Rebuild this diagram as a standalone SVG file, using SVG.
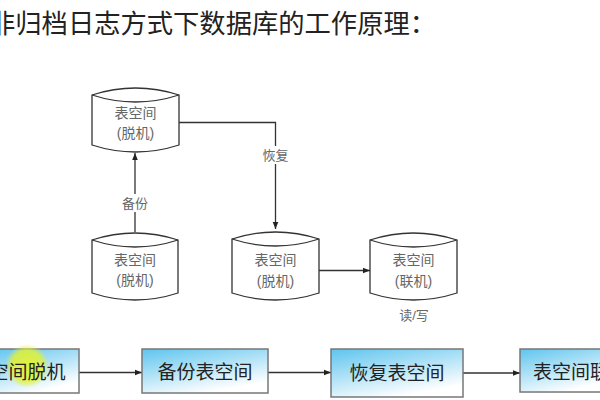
<svg xmlns="http://www.w3.org/2000/svg" width="600" height="400" viewBox="0 0 600 400">
<style>
.cyl{fill:#fff;stroke:#333;stroke-width:1.3}
.ct{font-family:"Liberation Sans","Noto Sans CJK SC",sans-serif;font-size:14px;fill:#666;text-anchor:middle}
.lbl{font-family:"Liberation Sans","Noto Sans CJK SC",sans-serif;font-size:13px;fill:#666;text-anchor:middle}
.box{fill:url(#bg);stroke:#777;stroke-width:1.5}
.bt{font-family:"Noto Sans CJK SC",sans-serif;font-size:19px;fill:#222;text-anchor:middle}
.ln{fill:none;stroke:#333;stroke-width:1.3}
</style>
<defs>
<linearGradient id="bg" x1="0" y1="0" x2="0.5" y2="1">
<stop offset="0" stop-color="#5ec4ee"/>
<stop offset="1" stop-color="#ffffff"/>
</linearGradient>
<radialGradient id="hl">
<stop offset="0" stop-color="#e4f230" stop-opacity="0.95"/>
<stop offset="0.7" stop-color="#e4f230" stop-opacity="0.8"/>
<stop offset="1" stop-color="#e4f230" stop-opacity="0"/>
</radialGradient>
<marker id="ah" viewBox="0 0 10 10" refX="10" refY="5" markerWidth="7" markerHeight="7" orient="auto" markerUnits="userSpaceOnUse">
<path d="M0,1 L10,5 L0,9 Z" fill="#222"/>
</marker>
</defs>
<rect width="600" height="400" fill="#fff"/>
<text x="-11" y="33" font-family="Noto Sans CJK SC,sans-serif" font-size="26.3" fill="#222">非归档日志方式下数据库的工作原理：</text>

<g id="cyl-top">
<path class="cyl" d="M92,95 Q135.5,81 179,95 L179,145 Q135.5,159 92,145 Z"/>
<path class="cyl" fill="none" d="M92,95 Q135.5,109 179,95"/>
<text class="ct" x="135.5" y="118">表空间</text>
<text class="ct" x="135.5" y="138">(脱机)</text>
</g>
<g id="cyl-bl">
<path class="cyl" d="M92,240 Q135,226 178,240 L178,293 Q135,307 92,293 Z"/>
<path class="cyl" fill="none" d="M92,240 Q135,254 178,240"/>
<text class="ct" x="135" y="265">表空间</text>
<text class="ct" x="135" y="285">(脱机)</text>
</g>
<g id="cyl-mid">
<path class="cyl" d="M232,239 Q275.5,225 319,239 L319,293 Q275.5,307 232,293 Z"/>
<path class="cyl" fill="none" d="M232,239 Q275.5,253 319,239"/>
<text class="ct" x="275.5" y="265">表空间</text>
<text class="ct" x="275.5" y="286">(脱机)</text>
</g>
<g id="cyl-right">
<path class="cyl" d="M370,240 Q413.5,226 457,240 L457,293 Q413.5,307 370,293 Z"/>
<path class="cyl" fill="none" d="M370,240 Q413.5,254 457,240"/>
<text class="ct" x="413.5" y="265">表空间</text>
<text class="ct" x="413.5" y="286">(联机)</text>
<text class="lbl" x="414" y="320">读/写</text>
</g>

<g id="connectors">
<path class="ln" d="M135,232 L135,212"/>
<path class="ln" d="M135,194 L135,153" marker-end="url(#ah)"/>
<text class="lbl" x="135" y="208">备份</text>
<path class="ln" d="M179,122.5 L275.5,122.5 L275.5,146"/>
<path class="ln" d="M275.5,164 L275.5,229" marker-end="url(#ah)"/>
<text class="lbl" x="275.5" y="160">恢复</text>
<path class="ln" d="M319,270.5 L370,270.5" marker-end="url(#ah)"/>
<path class="ln" d="M79,372.5 L142,372.5" marker-end="url(#ah)"/>
<path class="ln" d="M268,372.5 L331,372.5" marker-end="url(#ah)"/>
<path class="ln" d="M463,373 L520,373" marker-end="url(#ah)"/>
</g>

<g id="box1">
<rect class="box" x="-10" y="349" width="89" height="44"/>
<circle cx="27" cy="366" r="22" fill="url(#hl)"/>
<text class="bt" x="-10.5" y="379" style="text-anchor:start">空间脱机</text>
</g>
<g id="box2">
<rect class="box" x="142" y="349" width="126" height="44"/>
<text class="bt" x="205" y="379">备份表空间</text>
</g>
<g id="box3">
<rect class="box" x="331" y="349" width="132" height="48"/>
<text class="bt" x="397" y="380">恢复表空间</text>
</g>
<g id="box4">
<rect class="box" x="520" y="349" width="90" height="43"/>
<text class="bt" x="533" y="379" style="text-anchor:start">表空间联</text>
</g>
</svg>
